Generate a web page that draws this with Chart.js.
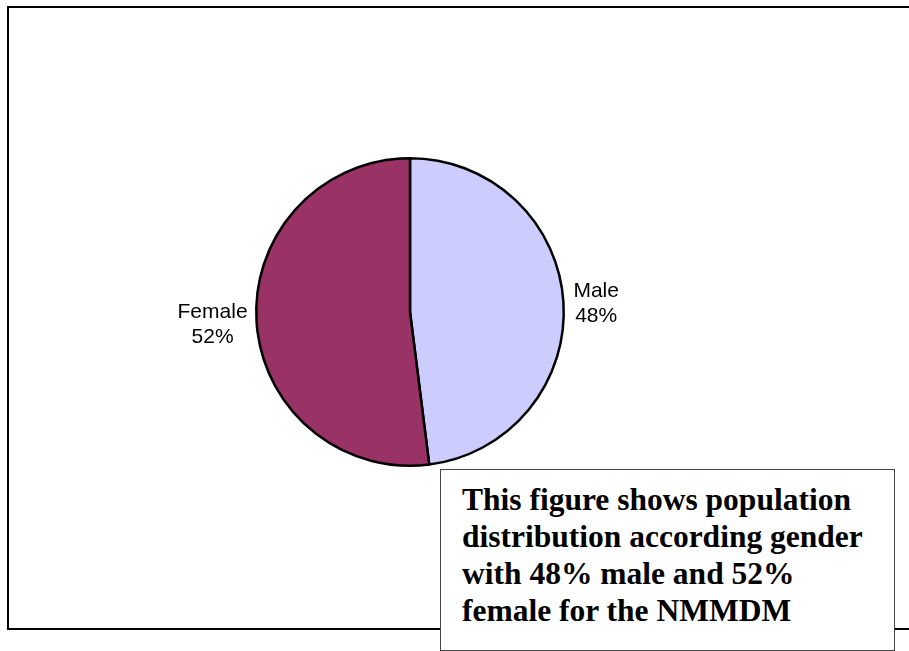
<!DOCTYPE html>
<html>
<head>
<meta charset="utf-8">
<script src="https://cdn.jsdelivr.net/npm/chart.js@4/dist/chart.umd.min.js"></script>
<style>
  html, body { margin: 0; padding: 0; background: #fff; overflow: hidden; }
  #wrap { position: relative; width: 909px; height: 651px; }
  #frame { position: absolute; left: 7px; top: 6px; width: 1000px; height: 624px; border: 2px solid #000; box-sizing: border-box; }
  #c { position: absolute; left: 0; top: 0; }
  #note { position: absolute; left: 440px; top: 469px; width: 455px; height: 182px; box-sizing: border-box;
          border: 1.5px solid #444; background: #fff; padding: 11px 0 0 21px; white-space: nowrap;
          font-family: "Liberation Serif", "Times New Roman", serif; font-weight: bold; font-size: 31.5px; line-height: 37px; color: #000; }
</style>
</head>
<body>
<div id="wrap">
  <div id="frame"></div>
  <canvas id="c" width="909" height="651"></canvas>
  <div id="note">This figure shows population<br>distribution according gender<br>with 48% male and 52%<br>female for the NMMDM</div>
</div>
<script>
const categories = ["Male", "Female"];
const shares = [48, 52];
const percentLabels = ["48%", "52%"];
const sliceColors = ["#CCCCFF", "#993366"];

const labelPlugin = {
  id: 'outsideLabels',
  afterDatasetsDraw(chart) {
    const ctx = chart.ctx;
    const meta = chart.getDatasetMeta(0);
    ctx.save();
    ctx.font = '21px "Liberation Sans", Arial, sans-serif';
    ctx.fillStyle = '#000';
    ctx.textAlign = 'center';
    ctx.textBaseline = 'middle';
    meta.data.forEach((arc, i) => {
      const mid = (arc.startAngle + arc.endAngle) / 2;
      const r = arc.outerRadius + 9;
      const ax = arc.x + Math.cos(mid) * r;
      const ay = arc.y + Math.sin(mid) * r + 2;
      const lines = [categories[i], percentLabels[i]];
      const w = Math.max(...lines.map(t => ctx.measureText(t).width));
      const cx = Math.cos(mid) >= 0 ? ax + w / 2 + 1 : ax - w / 2;
      const lh = 25;
      lines.forEach((t, k) => {
        ctx.fillText(t, cx, ay + (k - (lines.length - 1) / 2) * lh);
      });
    });
    ctx.restore();
  }
};

new Chart(document.getElementById('c'), {
  type: 'pie',
  data: {
    labels: categories,
    datasets: [{
      data: shares,
      backgroundColor: sliceColors,
      borderColor: '#000',
      borderWidth: 2.5,
      hoverOffset: 0
    }]
  },
  options: {
    responsive: false,
    animation: false,
    layout: { padding: { left: 255, right: 344, top: 157, bottom: 184 } },
    plugins: { legend: { display: false }, tooltip: { enabled: false } }
  },
  plugins: [labelPlugin]
});
</script>
</body>
</html>
